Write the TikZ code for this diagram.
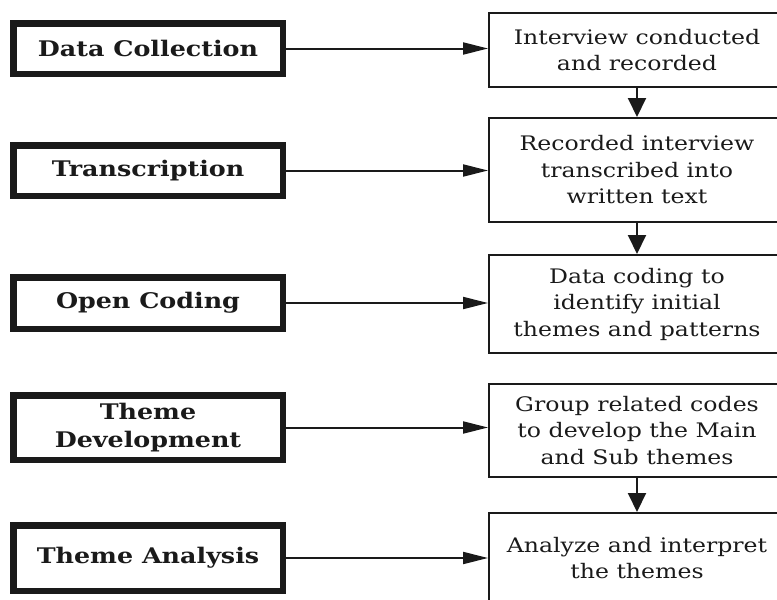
\documentclass[tikz,border=0pt]{standalone}
\usepackage{fontspec}
\setmainfont{DejaVu Serif}[FakeStretch=1.18]
\usetikzlibrary{arrows.meta}
\definecolor{ink}{HTML}{1A1A1A}
\tikzset{
  stage/.style={draw=ink, line width=6.5pt, minimum width=269.5pt, inner sep=0pt,
    align=center, text=ink, font=\bfseries\fontsize{21.5}{28}\selectfont},
  detail/.style={draw=ink, line width=2pt, minimum width=296pt, inner sep=0pt,
    align=center, text=ink, font=\fontsize{20}{26.5}\selectfont},
  harrow/.style={draw=ink, line width=2pt, -{Triangle[length=25pt,width=12pt]}},
  varrow/.style={draw=ink, line width=2pt, -{Triangle[length=19pt,width=18pt]}}
}
\begin{document}
\begin{tikzpicture}[x=1pt,y=-1pt]
\useasboundingbox (0,0) rectangle (777,600);
\clip (0,0) rectangle (777,600);
% left stage boxes
\node[stage, minimum height=50.5pt] (L1) at (148,48.5) {Data Collection};
\node[stage, minimum height=50.5pt] (L2) at (148,170.5) {Transcription};
\node[stage, minimum height=51.5pt] (L3) at (148,303) {Open Coding};
\node[stage, minimum height=64.5pt] (L4) at (148,427.5) {Theme\\Development};
\node[stage, minimum height=65.5pt] (L5) at (148,558) {Theme Analysis};
% right detail boxes
\node[detail, minimum height=74pt] (R1) at (637,50) {Interview conducted\\and recorded};
\node[detail, minimum height=104pt] (R2) at (637,170) {Recorded interview\\transcribed into\\written text};
\node[detail, minimum height=98pt] (R3) at (637,304) {Data coding to\\identify initial\\themes and patterns};
\node[detail, minimum height=93pt] (R4) at (637,430.5) {Group related codes\\to develop the Main\\and Sub themes};
\node[detail, minimum height=90pt] (R5) at (637,558) {Analyze and interpret\\the themes};
% horizontal connectors
\foreach \i in {1,...,5}{
  \draw[harrow] (L\i.east) -- (L\i.east -| R\i.west);
}
% vertical connectors
\draw[varrow] (R1.south) -- (R2.north);
\draw[varrow] (R2.south) -- (R3.north);
\draw[varrow] (R4.south) -- (R5.north);
\end{tikzpicture}
\end{document}
